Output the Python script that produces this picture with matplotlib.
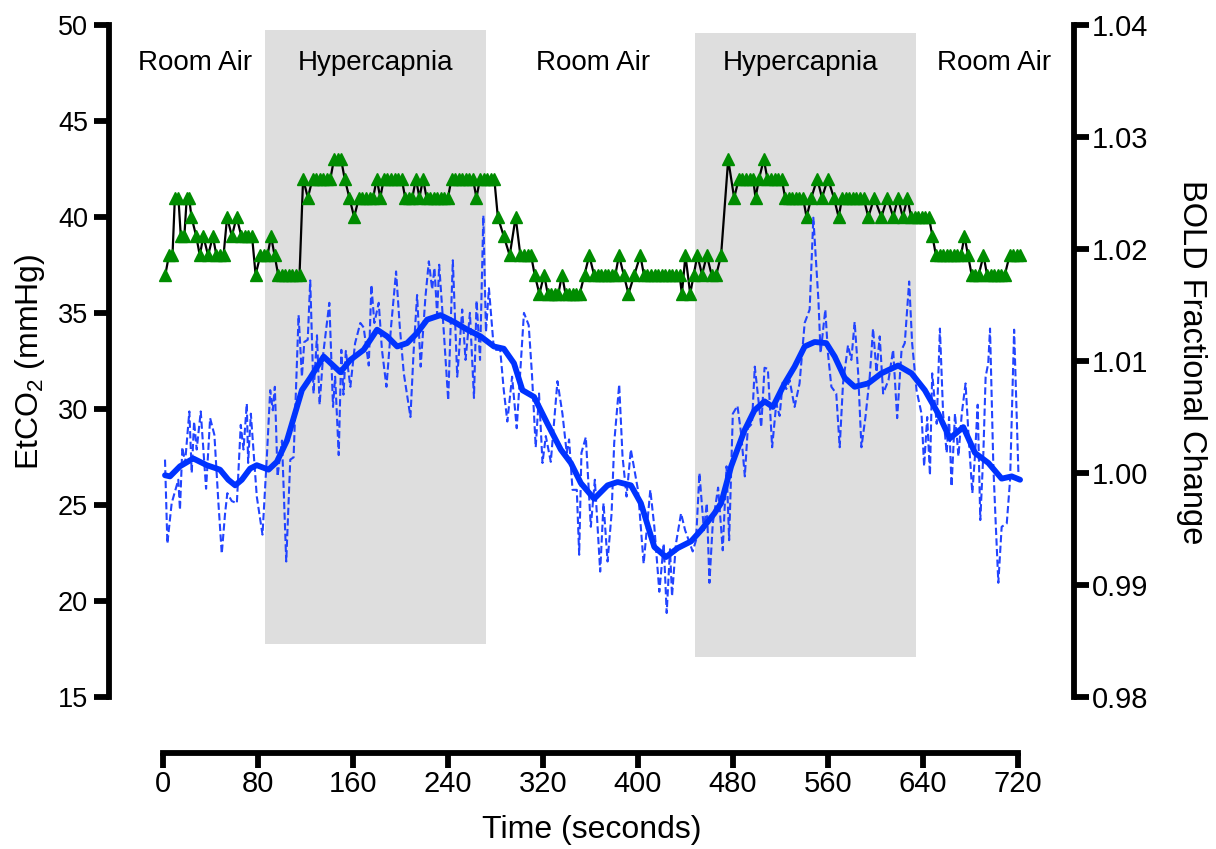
import matplotlib.pyplot as plt

plt.rcParams['font.family'] = ['Liberation Sans', 'DejaVu Sans']
plt.rcParams['mathtext.fontset'] = 'custom'
plt.rcParams['mathtext.rm'] = 'Liberation Sans'

# Phase shading (seconds) and the EtCO2 range it covers
shade_start = [86, 448]
shade_end = [272, 634]
shade_bottom = [17.75, 17.1]
shade_top = [49.75, 49.6]

phase_names = ['Room Air', 'Hypercapnia', 'Room Air', 'Hypercapnia', 'Room Air']
phase_x = [27, 179, 362, 537, 700]
phase_y = 48.0

# EtCO2, breath by breath (mmHg)
etco2_t = [2, 5, 8, 10, 13, 15, 18, 20, 22, 24,
           28, 31, 34, 38, 42, 45, 48, 51, 54, 58,
           62, 66, 69, 72, 75, 78, 82, 85, 88, 91,
           94, 97, 100, 103, 106, 109, 112, 115, 118, 122,
           126, 129, 132, 135, 138, 141, 144, 147, 150, 153,
           157, 161, 165, 168, 171, 174, 177, 180, 183, 186,
           189, 192, 195, 198, 201, 204, 207, 210, 213, 216,
           219, 222, 225, 228, 231, 234, 237, 240, 243, 246,
           249, 252, 255, 258, 261, 264, 267, 270, 273, 276,
           279, 282, 287, 292, 297, 301, 304, 307, 310, 313,
           317, 321, 324, 327, 330, 333, 336, 339, 342, 345,
           348, 351, 355, 359, 363, 366, 369, 372, 375, 378,
           381, 384, 388, 392, 397, 402, 405, 408, 411, 414,
           417, 420, 423, 426, 429, 432, 435, 437, 440, 444,
           447, 450, 454, 458, 462, 466, 470, 476, 481, 485,
           488, 491, 494, 497, 499, 502, 506, 509, 512, 515,
           518, 521, 524, 527, 530, 533, 536, 539, 542, 546,
           551, 555, 560, 565, 569, 572, 575, 578, 581, 584,
           587, 590, 594, 599, 605, 610, 615, 619, 623, 627,
           630, 633, 636, 639, 642, 645, 648, 651, 654, 657,
           660, 663, 666, 669, 672, 675, 678, 681, 684, 687,
           691, 694, 697, 700, 703, 706, 709, 713, 716, 719,
           722]
etco2 = [37, 38, 38, 41, 41, 39, 39, 41, 41, 40,
         39, 38, 39, 38, 39, 38, 38, 38, 40, 39,
         40, 39, 39, 39, 39, 37, 38, 38, 38, 39,
         38, 37, 37, 37, 37, 37, 37, 37, 42, 41,
         42, 42, 42, 42, 42, 42, 43, 43, 43, 42,
         41, 40, 41, 41, 41, 41, 41, 42, 41, 42,
         42, 42, 42, 42, 42, 41, 41, 41, 42, 41,
         42, 41, 41, 41, 41, 41, 41, 41, 42, 42,
         42, 42, 42, 42, 42, 41, 42, 42, 42, 42,
         42, 40, 39, 38, 40, 38, 38, 38, 38, 37,
         36, 37, 36, 36, 36, 36, 37, 36, 36, 36,
         36, 36, 37, 38, 37, 37, 37, 37, 37, 37,
         37, 38, 37, 36, 37, 38, 37, 37, 37, 37,
         37, 37, 37, 37, 37, 37, 37, 36, 38, 36,
         37, 38, 37, 38, 37, 37, 38, 43, 41, 42,
         42, 42, 42, 42, 41, 42, 43, 42, 42, 42,
         42, 42, 41, 41, 41, 41, 41, 41, 40, 41,
         42, 41, 42, 41, 40, 41, 41, 41, 41, 41,
         41, 41, 40, 41, 40, 41, 40, 41, 40, 41,
         40, 40, 40, 40, 40, 40, 39, 38, 38, 38,
         38, 38, 38, 38, 38, 39, 38, 37, 37, 37,
         38, 37, 37, 37, 37, 37, 37, 38, 38, 38,
         38]

# BOLD signal, raw (dashed)
bold_raw_t = [1.7, 3.7, 7.3, 12.9, 14.3, 16.3, 18.6, 22.2, 24.2, 26.2,
              28.4, 31.8, 36.3, 39.7, 43.3, 46.7, 49.5, 52.3, 54.2, 57.9,
              62.2, 65.5, 67.8, 70.6, 71.7, 74.0, 79.0, 83.8, 87.5, 90.3,
              92.5, 94.2, 96.5, 100.2, 103.8, 107.2, 110.0, 114.2, 117.0, 119.0,
              121.9, 124.0, 126.8, 129.7, 131.9, 135.0, 140.1, 143.2, 145.0, 148.0,
              150.2, 152.0, 154.0, 157.8, 161.8, 166.2, 169.0, 173.3, 175.5, 178.0,
              181.7, 184.4, 188.2, 192.1, 196.3, 199.4, 202.8, 208.4, 211.0, 214.0,
              217.0, 221.0, 223.9, 226.7, 228.6, 230.9, 232.6, 236.5, 240.2, 244.1,
              247.8, 252.0, 254.8, 258.5, 261.9, 264.1, 267.0, 269.8, 272.0, 274.5,
              278.7, 284.0, 287.0, 290.0, 294.0, 297.9, 304.0, 308.0, 310.7, 313.9,
              316.7, 319.6, 322.4, 326.6, 332.2, 336.4, 340.0, 342.0, 344.9, 348.5,
              350.5, 352.4, 356.1, 360.3, 363.7, 368.2, 371.0, 374.4, 377.8, 380.0,
              384.2, 387.0, 390.4, 394.0, 400.0, 404.8, 410.4, 413.8, 418.0, 421.7,
              424.2, 427.0, 428.7, 432.0, 436.3, 439.7, 446.1, 448.9, 451.8, 455.5,
              458.0, 460.2, 463.0, 467.5, 471.4, 474.6, 476.8, 479.9, 483.8, 486.9,
              490.0, 492.5, 496.0, 498.4, 502.0, 503.8, 506.6, 509.4, 513.0, 516.5,
              519.3, 522.0, 524.9, 527.7, 531.9, 536.1, 540.4, 544.6, 547.7, 552.0,
              553.8, 557.8, 560.0, 562.9, 567.0, 569.9, 572.7, 576.9, 579.7, 582.5,
              585.4, 588.2, 591.6, 595.2, 598.0, 600.9, 603.6, 606.5, 611.0, 614.9,
              618.3, 622.0, 624.7, 628.4, 630.9, 634.6, 638.8, 641.0, 643.6, 645.9,
              647.8, 651.6, 654.3, 657.0, 660.0, 662.0, 664.1, 667.0, 669.9, 672.7,
              675.9, 678.5, 681.6, 683.8, 686.1, 688.3, 690.9, 692.8, 695.0, 696.5,
              699.3, 701.3, 703.5, 706.3, 710.6, 713.4, 716.8, 720.4]
bold_raw = [1.0012, 0.9937, 0.9973, 0.9994, 0.9967, 1.0023, 1.0009, 1.0055, 1.0000, 1.0046,
            1.0021, 1.0055, 0.9986, 1.0049, 1.0034, 0.9973, 0.9928, 0.9964, 0.9982, 0.9975,
            0.9973, 1.0043, 1.0021, 1.0062, 1.0009, 1.0053, 0.9979, 0.9945, 1.0015, 1.0074,
            1.0056, 1.0077, 0.9997, 1.0029, 0.9921, 1.0012, 1.0014, 1.0141, 1.0086, 1.0117,
            1.0119, 1.0172, 1.0071, 1.0123, 1.0061, 1.0107, 1.0152, 1.0059, 1.0086, 1.0016,
            1.0110, 1.0070, 1.0109, 1.0077, 1.0116, 1.0134, 1.0130, 1.0096, 1.0168, 1.0134,
            1.0152, 1.0110, 1.0077, 1.0131, 1.0180, 1.0131, 1.0089, 1.0050, 1.0107, 1.0159,
            1.0095, 1.0157, 1.0189, 1.0164, 1.0183, 1.0141, 1.0186, 1.0126, 1.0065, 1.0190,
            1.0086, 1.0146, 1.0101, 1.0143, 1.0067, 1.0154, 1.0101, 1.0230, 1.0126, 1.0165,
            1.0110, 1.0110, 1.0074, 1.0046, 1.0086, 1.0040, 1.0143, 1.0132, 1.0089, 1.0023,
            1.0071, 1.0009, 1.0033, 1.0010, 1.0082, 1.0053, 1.0018, 1.0030, 0.9985, 0.9985,
            0.9927, 1.0018, 1.0032, 0.9952, 0.9994, 0.9912, 0.9973, 0.9921, 0.9964, 1.0027,
            1.0079, 1.0015, 0.9979, 1.0021, 0.9985, 0.9919, 0.9985, 0.9952, 0.9894, 0.9937,
            0.9875, 0.9932, 0.9890, 0.9937, 0.9964, 0.9949, 0.9930, 0.9940, 1.0000, 0.9949,
            0.9973, 0.9902, 0.9955, 0.9987, 0.9931, 1.0006, 0.9940, 1.0053, 1.0060, 1.0035,
            0.9997, 1.0040, 1.0044, 1.0095, 1.0060, 1.0041, 1.0094, 1.0093, 1.0023, 1.0062,
            1.0051, 1.0082, 1.0075, 1.0083, 1.0059, 1.0080, 1.0134, 1.0146, 1.0228, 1.0154,
            1.0107, 1.0146, 1.0107, 1.0077, 1.0071, 1.0023, 1.0080, 1.0114, 1.0101, 1.0135,
            1.0090, 1.0023, 1.0050, 1.0086, 1.0129, 1.0090, 1.0122, 1.0071, 1.0083, 1.0110,
            1.0049, 1.0110, 1.0116, 1.0171, 1.0116, 1.0074, 1.0053, 1.0006, 1.0050, 0.9998,
            1.0089, 1.0044, 1.0129, 1.0053, 1.0018, 1.0050, 0.9988, 1.0053, 1.0015, 1.0053,
            1.0080, 1.0032, 0.9982, 1.0015, 1.0061, 0.9958, 1.0018, 1.0086, 1.0098, 1.0129,
            1.0006, 0.9955, 0.9902, 0.9952, 0.9955, 0.9994, 1.0128, 1.0000]

# BOLD signal, smoothed (thick line)
bold_t = [1.7, 5.9, 14.3, 25.5, 36.9, 48, 55, 60.8, 66.4, 73.4,
          79, 88.9, 95.9, 104.4, 111.4, 117, 124, 135.3, 149.4, 157.8,
          169, 180.3, 188.8, 197.2, 205.6, 214, 222.5, 233.8, 245, 256.3,
          267.5, 278.7, 287, 295.6, 302.7, 312.5, 323.8, 335, 343.5, 351.9,
          363.1, 374.4, 382.9, 394.1, 402.5, 413.8, 423.6, 433.5, 444.7, 453.2,
          464.4, 470, 478.5, 489.7, 498.1, 506.6, 513.6, 523.5, 531.9, 540.4,
          548.8, 558.6, 565.7, 574.1, 582.5, 593.8, 605, 619.1, 630.4, 641.6,
          652.9, 662.7, 674, 683.8, 695.1, 706.3, 714.8, 721.8]
bold_smooth = [0.9998, 0.9997, 1.0006, 1.0013, 1.0007, 1.0003, 0.9994, 0.9989, 0.9994, 1.0004,
               1.0007, 1.0003, 1.0010, 1.0029, 1.0054, 1.0074, 1.0085, 1.0104, 1.0090, 1.0101,
               1.0110, 1.0128, 1.0122, 1.0113, 1.0116, 1.0125, 1.0137, 1.0141, 1.0135, 1.0128,
               1.0122, 1.0113, 1.0111, 1.0098, 1.0074, 1.0068, 1.0044, 1.0021, 1.0009, 0.9991,
               0.9977, 0.9989, 0.9992, 0.9989, 0.9973, 0.9934, 0.9925, 0.9933, 0.9939, 0.9949,
               0.9964, 0.9973, 1.0006, 1.0038, 1.0056, 1.0064, 1.0059, 1.0080, 1.0095, 1.0113,
               1.0117, 1.0116, 1.0104, 1.0085, 1.0077, 1.0080, 1.0089, 1.0096, 1.0089, 1.0074,
               1.0053, 1.0031, 1.0041, 1.0018, 1.0009, 0.9995, 0.9997, 0.9994]

x_ticks = [0, 80, 160, 240, 320, 400, 480, 560, 640, 720]
left_ticks = [15, 20, 25, 30, 35, 40, 45, 50]
right_ticks = [0.98, 0.99, 1.00, 1.01, 1.02, 1.03, 1.04]

fig = plt.figure(figsize=(12.16, 8.49), dpi=100)
ax = fig.add_axes([0.0896, 0.179, 0.7936, 0.7915])
ax2 = ax.twinx()

for s, e, b, t in zip(shade_start, shade_end, shade_bottom, shade_top):
    ax.fill_between([s, e], b, t, color='#dedede', lw=0, zorder=0)

ax.plot(etco2_t, etco2, color='black', lw=1.6, marker='^', ms=8,
        mfc='#008c00', mec='#008c00', zorder=3)

ax2.plot(bold_raw_t, bold_raw, color='#2244ff', lw=1.5, ls=(0, (3.5, 1.6)))
ax2.plot(bold_t, bold_smooth, color='#0033ff', lw=4.2, solid_capstyle='round',
         solid_joinstyle='round')

for name, x in zip(phase_names, phase_x):
    ax.text(x, phase_y, name, ha='center', va='center', fontsize=20)

ax.set_xlim(-45.5, 767.2)
ax.set_ylim(15, 50)
ax2.set_ylim(0.98, 1.04)

ax.set_xticks(x_ticks)
ax.set_yticks(left_ticks)
ax2.set_yticks(right_ticks)
ax2.set_yticklabels(['%.2f' % v for v in right_ticks])

for side in ['top', 'right']:
    ax.spines[side].set_visible(False)
for side in ['top', 'left', 'bottom']:
    ax2.spines[side].set_visible(False)
ax.spines['left'].set_linewidth(4.2)
ax2.spines['right'].set_linewidth(4.2)
ax.spines['bottom'].set_linewidth(4.2)
ax.spines['bottom'].set_position(('outward', 40.5))
ax.spines['bottom'].set_bounds(0, 720)

ax.tick_params(axis='y', direction='out', length=11, width=4.2, labelsize=19.5, pad=4)
ax.tick_params(axis='x', direction='out', length=11, width=4.2, labelsize=21, pad=1)
ax2.tick_params(axis='y', direction='out', length=11, width=4.2, labelsize=21, pad=2)

fig.text(0.487, 0.0224, 'Time (seconds)', ha='center', va='center', fontsize=23)
fig.text(0.0247, 0.5736, r'EtCO$_\mathregular{2}$ (mmHg)', ha='center', va='center',
         rotation=90, fontsize=23)
fig.text(0.980, 0.5736, 'BOLD Fractional Change', ha='center', va='center',
         rotation=270, fontsize=23.5)

fig.savefig('out.png', dpi=100)
